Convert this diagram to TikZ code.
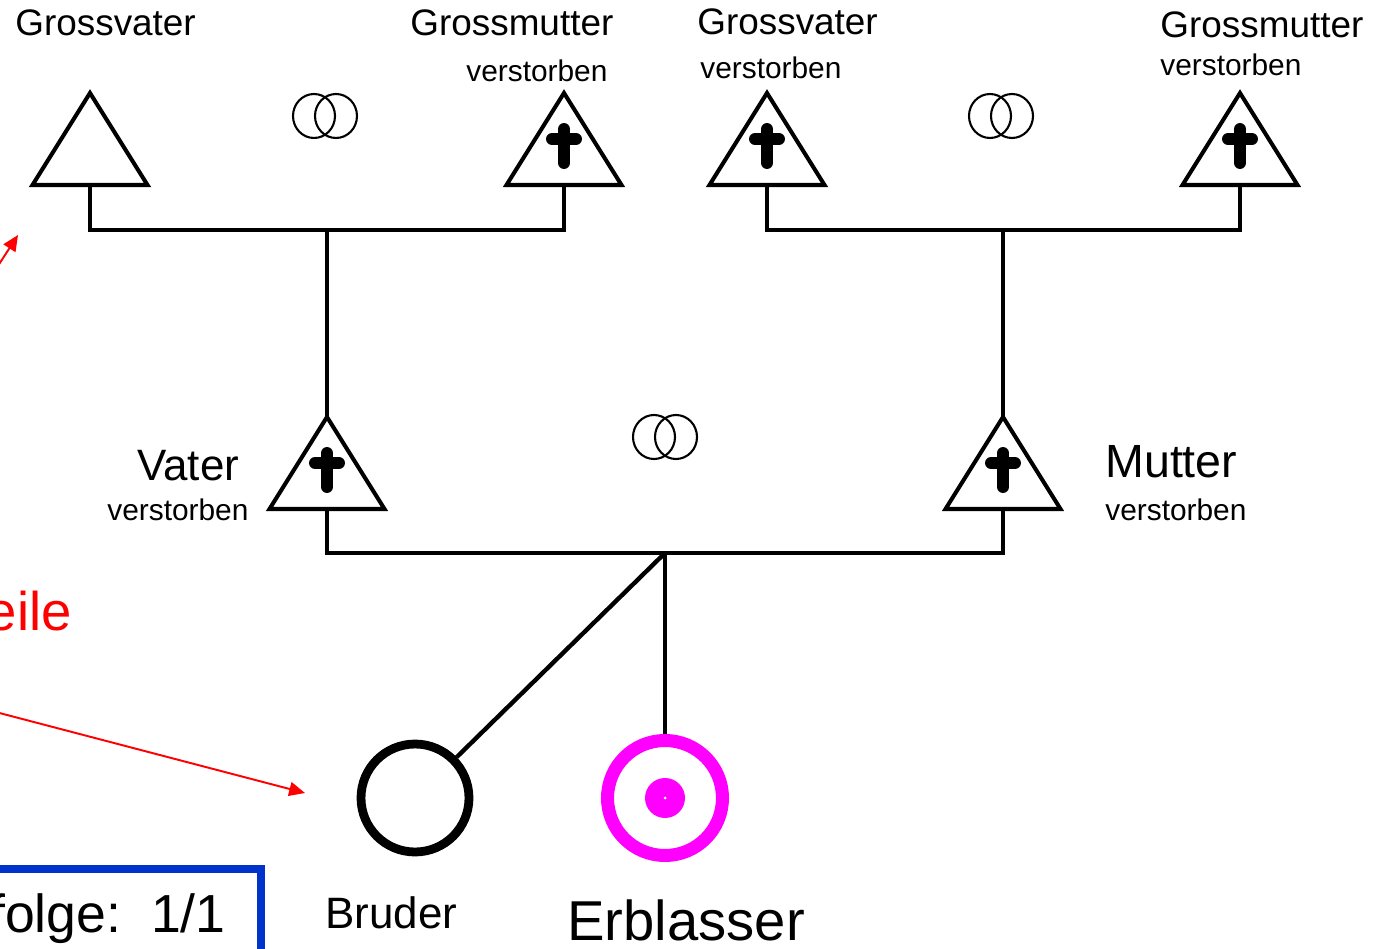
\documentclass[tikz,border=0pt]{standalone}
\usepackage{fontspec}
\setmainfont{Liberation Sans}
\usetikzlibrary{arrows.meta}

\definecolor{framecol}{RGB}{0,51,204}
\definecolor{heircol}{RGB}{255,0,255}

\tikzset{
  lineage/.style={line width=2.5pt},
  hint/.style={red, line width=1.1pt, -{Triangle[length=9pt,width=8pt]}},
  bigname/.style={anchor=base west, inner sep=0pt, font=\fontsize{21}{24}\selectfont},
  midname/.style={anchor=base west, inner sep=0pt, font=\fontsize{25}{28}\selectfont},
  note/.style={anchor=base west, inner sep=0pt, font=\fontsize{17}{20}\selectfont},
  male/.pic={
    \draw[line width=2.3pt, line join=miter] (-57.5,0) -- (0,-92) -- (57.5,0) -- cycle;
    \coordinate (-top) at (0,-92);
    \coordinate (-bot) at (0,0);
  },
  cross/.pic={
    \draw[line width=6.8pt, line cap=round] (0,-56) -- (0,-22);
    \draw[line width=6.8pt, line cap=round] (-12,-46) -- (12,-46);
  },
  rings/.pic={
    \draw[line width=1.2pt] (-11,0) circle[x radius=0.42cm, y radius=0.44cm];
    \draw[line width=1.2pt] (11,0) circle[x radius=0.42cm, y radius=0.44cm];
  }
}

\begin{document}
\begin{tikzpicture}[x=0.02cm, y=-0.02cm]
\useasboundingbox (0,0) rectangle (1386,949);
\clip (0,0) rectangle (1386,949);

% Grandparents (father's side)
\pic (gv1) at (90,185) {male};
\pic (gm1) at (564,185) {male};
\pic at (564,185) {cross};
\pic at (325,116) {rings};
\node[bigname] (gv1name) at (15,36) {Grossvater};
\node[bigname] (gm1name) at (410,36) {Grossmutter};
\node[note] (gm1note) at (466,82) {verstorben};

% Grandparents (mother's side)
\pic (gv2) at (767,185) {male};
\pic at (767,185) {cross};
\pic (gm2) at (1240,185) {male};
\pic at (1240,185) {cross};
\pic at (1001,116) {rings};
\node[bigname] (gv2name) at (697,35) {Grossvater};
\node[note] (gv2note) at (700,79) {verstorben};
\node[bigname] (gm2name) at (1160,38) {Grossmutter};
\node[note] (gm2note) at (1160,76) {verstorben};

% Parents
\pic (vater) at (327,509) {male};
\pic at (327,509) {cross};
\pic (mutter) at (1003,509) {male};
\pic at (1003,509) {cross};
\pic at (665,437) {rings};
\node[midname] (vatername) at (137,480) {Vater};
\node[note] (vaternote) at (107,520) {verstorben};
\node[midname, font=\fontsize{26.5}{29}\selectfont] (muttername) at (1105,477) {Mutter};
\node[note] (mutternote) at (1105,520) {verstorben};

% Children
\node[circle, draw, line width=5pt, minimum size=2.16cm, inner sep=0pt] (bruder) at (415,798) {};
\node[circle, draw=heircol, line width=7.4pt, minimum size=2.3cm, inner sep=0pt] (erblasser) at (665,798) {};
\fill[heircol] (erblasser.center) circle[radius=0.4cm];
\fill[white] (erblasser.center) circle[radius=0.03cm];
\node[midname] (brudername) at (325,928) {Bruder};
\node[anchor=base west, inner sep=0pt, font=\fontsize{32}{34}\selectfont] (erblassername) at (567,940) {Erblasser};

% Lines of descent
\coordinate (par1) at (327,230);
\coordinate (par2) at (1003,230);
\coordinate (kids) at (665,553);
\draw[lineage] (gv1-bot) |- (par1) -| (gm1-bot);
\draw[lineage] (gv2-bot) |- (par2) -| (gm2-bot);
\draw[lineage] (par1) -- (vater-top);
\draw[lineage] (par2) -- (mutter-top);
\draw[lineage] (vater-bot) |- (kids) -| (mutter-bot);
\draw[lineage] (kids) -- (erblasser.north);
\draw[lineage] (kids) -- (bruder);

% Hints on the left
\node[anchor=base east, inner sep=0pt, red, font=\fontsize{31}{34}\selectfont] (teile) at (72,630) {eile};
\coordinate (hint1) at (-6,272);
\coordinate (hint2) at (-12,710);
\draw[hint] (hint1) -- (18,235);
\draw[hint] (hint2) -- (305,793);

% Order box
\draw[framecol, line width=4.3pt] (-30,869) rectangle (261,990);
\node[anchor=base east, inner sep=0pt, font=\fontsize{30.5}{33}\selectfont] (folge) at (226,932) {folge:\ \ 1/1};

\end{tikzpicture}
\end{document}
